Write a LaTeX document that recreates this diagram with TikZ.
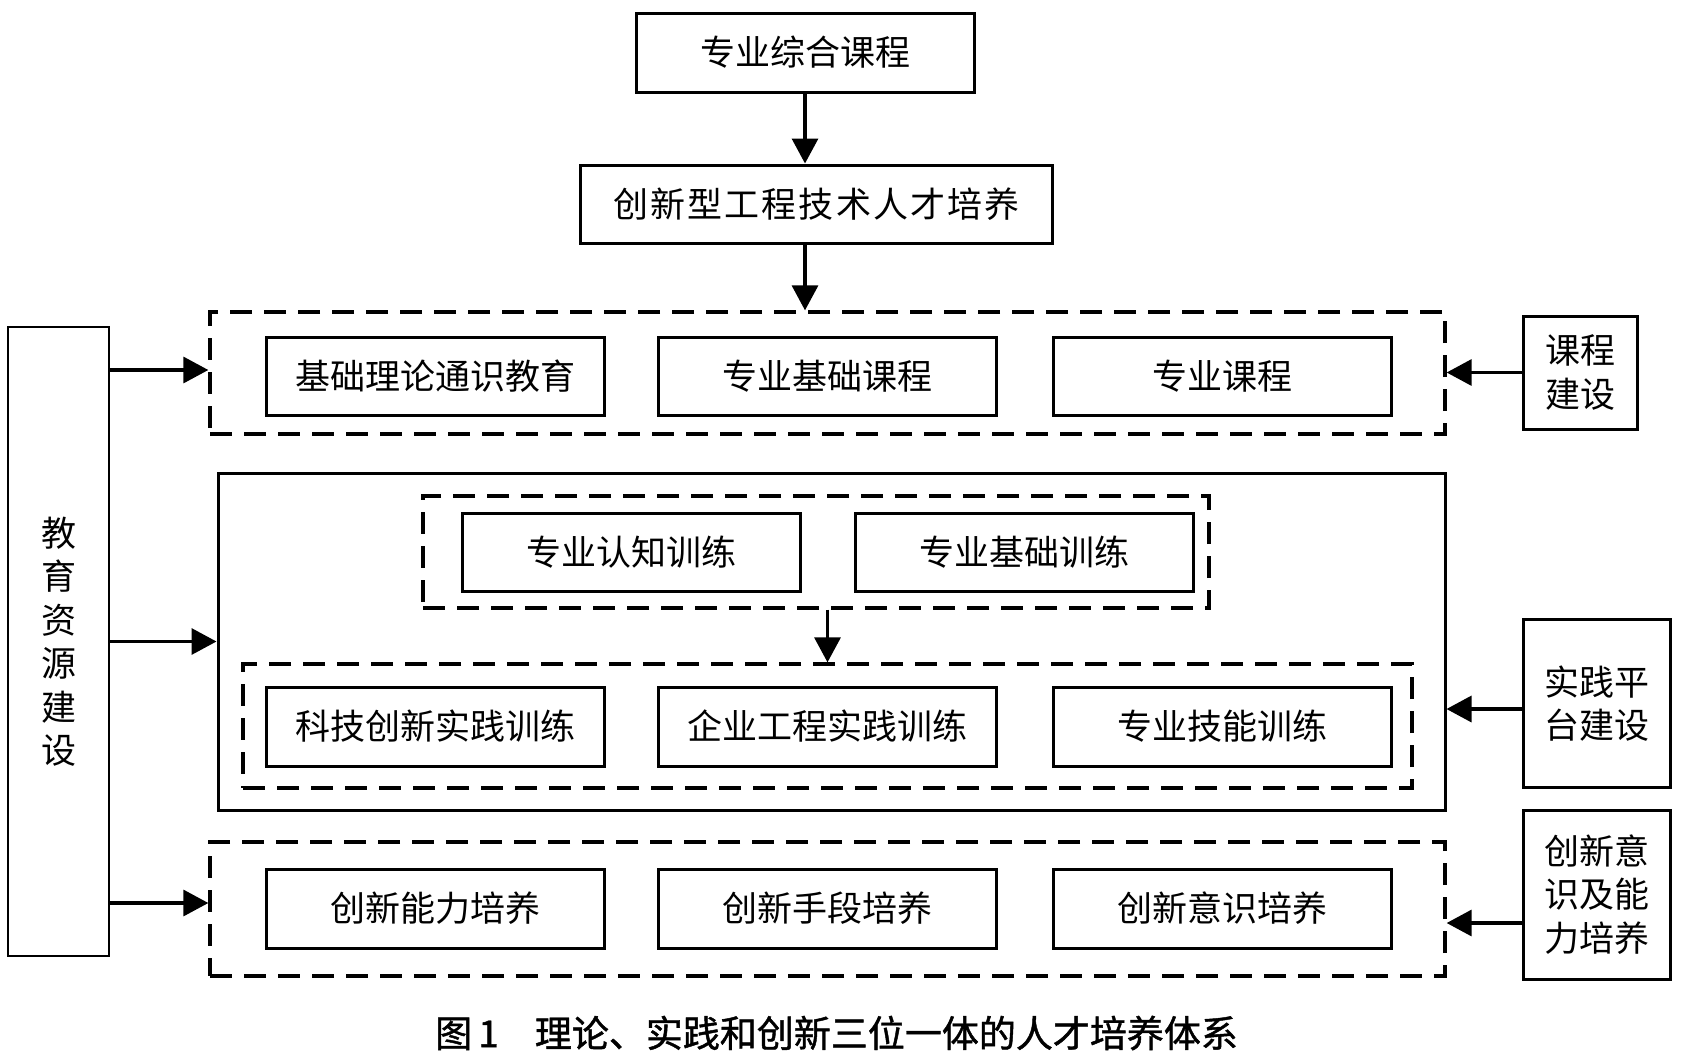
\documentclass[tikz,border=0pt]{standalone}
\usepackage{fontspec}
\newfontfamily\cjk{Noto Sans CJK SC}
\newfontfamily\cjkcap[FakeBold=1.2]{Noto Sans CJK SC}
\usetikzlibrary{arrows.meta}
\begin{document}
\begin{tikzpicture}[x=1pt,y=-1pt,
  sz/.style 2 args={minimum width=#1pt, minimum height=#2pt},
  box/.style={draw, line width=3pt, inner sep=0pt, align=center,
    font=\cjk\fontsize{35}{43.5}\selectfont},
  thinbox/.style={draw, line width=1.4pt, inner sep=0pt, align=center,
    font=\cjk\fontsize{35}{43.5}\selectfont},
  dbox/.style={draw, line width=3.3pt, inner sep=0pt, dash pattern=on 22pt off 12pt},
  arr/.style={line width=3.3pt, -{Triangle[length=25pt,width=26pt]}}]
\useasboundingbox (0,0) rectangle (1683,1058);
% containers
\node[dbox, sz={1235}{122}] (d1) at (827.5,373) {};
\node[box, sz={1227}{337}] (mid) at (831.5,641.5) {};
\node[dbox, sz={786}{112}] (d2) at (816,552) {};
\node[dbox, sz={1169}{124}] (d2b) at (827.5,726) {};
\node[dbox, sz={1235}{134}] (d3) at (827.5,909) {};
% top
\node[box, sz={338}{79}] (b1) at (805,52.5) {专业综合课程};
\node[box, sz={472}{78}] (b2) at (816.5,204) {\addfontfeature{LetterSpace=6}创新型工程技术人才培养};
% row 1
\node[box, sz={338}{78}] (r1a) at (435,376) {基础理论通识教育};
\node[box, sz={338}{78}] (r1b) at (827.5,376) {专业基础课程};
\node[box, sz={338}{78}] (r1c) at (1222,376) {专业课程};
% inner top row
\node[box, sz={338}{78}] (ra1) at (631,552) {专业认知训练};
\node[box, sz={338}{78}] (ra2) at (1024,552) {专业基础训练};
% inner lower row
\node[box, sz={338}{79}] (rb1) at (435,726.5) {科技创新实践训练};
\node[box, sz={338}{79}] (rb2) at (827.5,726.5) {企业工程实践训练};
\node[box, sz={338}{79}] (rb3) at (1222,726.5) {专业技能训练};
% bottom row
\node[box, sz={338}{79}] (rc1) at (435,908.5) {创新能力培养};
\node[box, sz={338}{79}] (rc2) at (827.5,908.5) {创新手段培养};
\node[box, sz={338}{79}] (rc3) at (1222,908.5) {创新意识培养};
% side boxes
\node[thinbox, sz={101}{629}] (edu) at (58.5,641.5) {教\\育\\资\\源\\建\\设};
\node[box, sz={114}{113}] (kc) at (1580,372.5) {课程\\建设};
\node[box, sz={147}{168}] (sj) at (1596.5,703.5) {实践平\\台建设};
\node[box, sz={147}{169}] (cx) at (1596.5,894.5) {创新意\\识及能\\力培养};
% arrows
\draw[arr] (b1.south) -- (b1.south |- b2.north);
\draw[arr] (b1.south |- b2.south) -- (b1.south |- d1.north);
\draw[arr] (d2.south -| d2b.north) -- (d2b.north);
\draw[arr] ([yshift=3pt]edu.east |- d1.west) -- ([yshift=3pt]d1.west);
\draw[arr] (edu.east |- mid.west) -- (mid.west);
\draw[arr] ([yshift=6pt]edu.east |- d3.west) -- ([yshift=6pt]d3.west);
\draw[arr] (kc.west) -- (kc.west -| d1.east);
\draw[arr] ([yshift=-5.5pt]sj.west) -- ([yshift=-5.5pt]sj.west -| mid.east);
\draw[arr] ([yshift=-28.5pt]cx.west) -- ([yshift=-28.5pt]cx.west -| d3.east);
% caption
\node[anchor=west, inner sep=0pt, font=\cjkcap\fontsize{37}{44}\selectfont] (cap) at (435,1033) {图\,1\hspace{36pt}理论、实践和创新三位一体的人才培养体系};
\end{tikzpicture}
\end{document}
